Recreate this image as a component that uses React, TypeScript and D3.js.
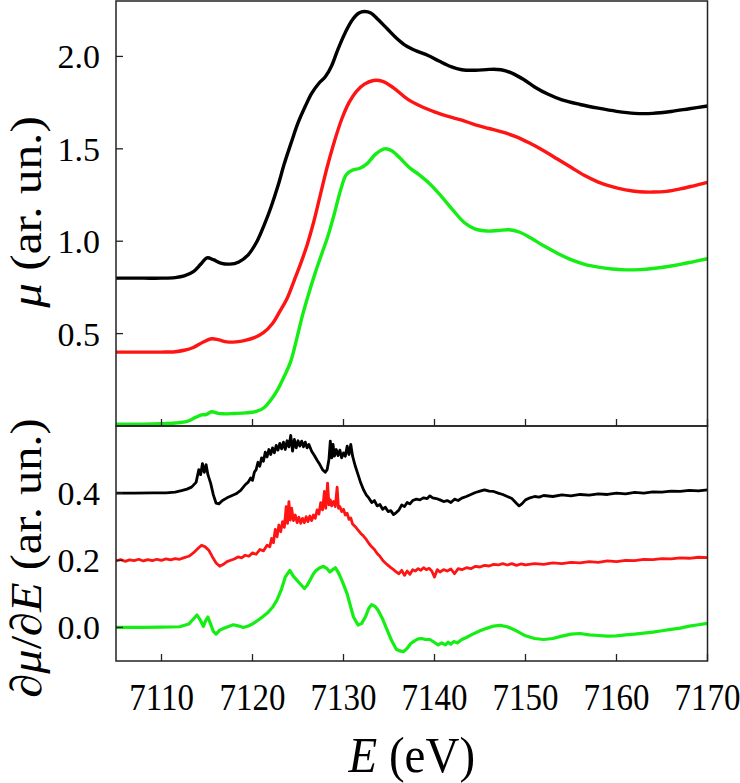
import React from "react";
import * as d3 from "d3";

// ---------- data ----------
const xTicks = [7110, 7120, 7130, 7140, 7150, 7160, 7170];
const muTicks = [0.5, 1.0, 1.5, 2.0];
const dTicks = [0.0, 0.2, 0.4];

// XANES mu(E), [E, mu]
const muBlack: [number, number][] = [
  [7105, 0.8], [7108, 0.8], [7110, 0.8], [7111.5, 0.803], [7112.5, 0.812], [7113.5, 0.835],
  [7114.3, 0.875], [7115, 0.91], [7115.7, 0.9], [7116.5, 0.882], [7117.5, 0.876], [7118.5, 0.888],
  [7119.5, 0.925], [7120.5, 1.0], [7121.3, 1.09], [7122, 1.18], [7122.8, 1.3], [7123.5, 1.42],
  [7124.3, 1.54], [7125, 1.64], [7125.8, 1.73], [7126.5, 1.8], [7127.3, 1.855], [7128, 1.89],
  [7128.7, 1.95], [7129.4, 2.04], [7130.2, 2.13], [7131, 2.2], [7131.7, 2.235], [7132.3, 2.243],
  [7133, 2.235], [7133.8, 2.2], [7134.8, 2.15], [7135.8, 2.1], [7136.8, 2.06], [7138, 2.03],
  [7139.3, 2.005], [7140.5, 1.975], [7141.8, 1.945], [7143, 1.928], [7144.5, 1.925], [7146, 1.93],
  [7147.3, 1.928], [7148.5, 1.91], [7149.8, 1.875], [7151, 1.835], [7152.5, 1.795], [7154, 1.765],
  [7156, 1.74], [7158, 1.72], [7160, 1.703], [7162, 1.692], [7164, 1.692], [7166, 1.702],
  [7168, 1.717], [7170, 1.732],
];

const muRed: [number, number][] = [
  [7105, 0.4], [7108, 0.4], [7110, 0.4], [7111.5, 0.402], [7112.5, 0.41], [7113.5, 0.425],
  [7114.5, 0.452], [7115.5, 0.472], [7116.3, 0.466], [7117.2, 0.455], [7118.2, 0.455],
  [7119.2, 0.463], [7120.2, 0.478], [7121.2, 0.505], [7122.2, 0.555], [7123, 0.62], [7123.8, 0.69],
  [7124.6, 0.79], [7125.3, 0.88], [7126, 0.98], [7126.7, 1.1], [7127.4, 1.24], [7128.2, 1.4],
  [7129, 1.54], [7129.8, 1.66], [7130.6, 1.75], [7131.4, 1.81], [7132.3, 1.85], [7133.3, 1.87],
  [7134.3, 1.865], [7135.5, 1.83], [7137, 1.77], [7138.5, 1.73], [7140, 1.7], [7141.5, 1.675],
  [7143, 1.655], [7144.5, 1.63], [7146, 1.61], [7147.5, 1.59], [7149, 1.565], [7150.5, 1.53],
  [7152, 1.49], [7153.5, 1.445], [7155, 1.4], [7156.5, 1.355], [7158, 1.32], [7159.5, 1.295],
  [7161, 1.278], [7162.5, 1.268], [7164, 1.266], [7165.5, 1.27], [7167, 1.283], [7168.5, 1.3],
  [7170, 1.318],
];

const muGreen: [number, number][] = [
  [7105, 0.01], [7108, 0.01], [7110, 0.012], [7111.5, 0.016], [7112.8, 0.025], [7113.8, 0.048],
  [7114.4, 0.06], [7114.9, 0.062], [7115.5, 0.077], [7116.1, 0.07], [7116.8, 0.066], [7118, 0.068],
  [7119.3, 0.071], [7120.5, 0.08], [7121.3, 0.1], [7122, 0.14], [7122.8, 0.2], [7123.5, 0.27],
  [7124.2, 0.35], [7124.9, 0.48], [7125.5, 0.6], [7126.2, 0.72], [7126.9, 0.83], [7127.6, 0.93],
  [7128.3, 1.03], [7129, 1.15], [7129.7, 1.28], [7130.3, 1.36], [7131, 1.385], [7131.8, 1.395],
  [7132.6, 1.42], [7133.5, 1.47], [7134.5, 1.5], [7135.3, 1.49], [7136.2, 1.45], [7137.2, 1.4],
  [7138.3, 1.36], [7139.5, 1.31], [7140.8, 1.24], [7142, 1.17], [7143.3, 1.1], [7144.5, 1.065],
  [7145.8, 1.055], [7147, 1.058], [7148.2, 1.062], [7149.3, 1.05], [7150.5, 1.02], [7152, 0.975],
  [7153.5, 0.935], [7155, 0.9], [7156.5, 0.875], [7158, 0.86], [7159.5, 0.85], [7161, 0.845],
  [7162.5, 0.846], [7164, 0.852], [7165.5, 0.862], [7167, 0.875], [7168.5, 0.89], [7170, 0.905],
];

// derivative d mu / dE, [E, value]
const dBlack: [number, number][] = [
  [7105, 0.4], [7107, 0.4], [7109, 0.401], [7110.5, 0.401], [7111.5, 0.403], [7112.3, 0.408],
  [7112.8, 0.412], [7113.3, 0.418], [7113.8, 0.432], [7114.1, 0.47], [7114.3, 0.455], [7114.5, 0.488],
  [7114.7, 0.462], [7114.9, 0.485], [7115.1, 0.455], [7115.4, 0.43], [7115.7, 0.395], [7116.0, 0.37],
  [7116.3, 0.368], [7116.7, 0.378], [7117.2, 0.386], [7117.7, 0.392], [7118.2, 0.398], [7118.7, 0.408],
  [7119.2, 0.425], [7119.5, 0.432], [7119.8, 0.445], [7120.0, 0.438], [7120.2, 0.462], [7120.4, 0.47],
  [7120.6, 0.492], [7120.8, 0.48], [7121.0, 0.505], [7121.2, 0.495], [7121.4, 0.522], [7121.6, 0.508],
  [7121.8, 0.53], [7122.0, 0.515], [7122.2, 0.535], [7122.4, 0.52], [7122.6, 0.542], [7122.8, 0.528],
  [7123.0, 0.548], [7123.2, 0.532], [7123.4, 0.552], [7123.6, 0.53], [7123.8, 0.556], [7124.0, 0.538],
  [7124.2, 0.572], [7124.4, 0.525], [7124.6, 0.56], [7124.8, 0.535], [7125.0, 0.556], [7125.2, 0.54],
  [7125.4, 0.555], [7125.6, 0.538], [7125.8, 0.552], [7126.0, 0.535], [7126.2, 0.545], [7126.5, 0.525],
  [7126.8, 0.512], [7127.1, 0.498], [7127.4, 0.485], [7127.7, 0.47], [7128.0, 0.462], [7128.2, 0.47],
  [7128.4, 0.5], [7128.55, 0.555], [7128.7, 0.505], [7128.85, 0.545], [7129.0, 0.51], [7129.2, 0.53],
  [7129.4, 0.512], [7129.6, 0.528], [7129.8, 0.505], [7130.0, 0.52], [7130.2, 0.51], [7130.4, 0.54],
  [7130.6, 0.515], [7130.8, 0.545], [7131.0, 0.51], [7131.3, 0.48], [7131.6, 0.455], [7131.9, 0.43],
  [7132.2, 0.41], [7132.5, 0.395], [7132.8, 0.385], [7133.1, 0.372], [7133.4, 0.378], [7133.7, 0.362],
  [7134.0, 0.366], [7134.3, 0.352], [7134.6, 0.358], [7134.9, 0.345], [7135.2, 0.348], [7135.5, 0.336],
  [7135.8, 0.342], [7136.1, 0.35], [7136.4, 0.365], [7136.7, 0.36], [7137.0, 0.372], [7137.3, 0.368],
  [7137.6, 0.378], [7138.0, 0.382], [7138.4, 0.38], [7138.8, 0.386], [7139.2, 0.384], [7139.5, 0.392],
  [7139.8, 0.386], [7140.2, 0.384], [7140.6, 0.38], [7141.0, 0.375], [7141.4, 0.378], [7141.8, 0.372],
  [7142.2, 0.382], [7142.6, 0.378], [7143.0, 0.385], [7143.5, 0.39], [7144.0, 0.396], [7144.5, 0.402],
  [7145.0, 0.406], [7145.5, 0.41], [7146.0, 0.406], [7146.5, 0.405], [7147.0, 0.4], [7147.5, 0.396],
  [7148.0, 0.39], [7148.5, 0.384], [7149.0, 0.37], [7149.3, 0.362], [7149.6, 0.368], [7150.0, 0.38],
  [7150.5, 0.386], [7151.0, 0.39], [7151.5, 0.388], [7152, 0.393], [7153, 0.39], [7154, 0.395],
  [7155, 0.392], [7156, 0.396], [7157, 0.394], [7158, 0.398], [7159, 0.396], [7160, 0.4],
  [7161, 0.398], [7162, 0.402], [7163, 0.4], [7164, 0.404], [7165, 0.403], [7166, 0.406],
  [7167, 0.405], [7168, 0.408], [7169, 0.407], [7170, 0.41],
];

const dRed: [number, number][] = [
  [7105, 0.198], [7105.5, 0.202], [7106, 0.197], [7106.5, 0.201], [7107, 0.199], [7107.5, 0.203],
  [7108, 0.198], [7108.5, 0.202], [7109, 0.199], [7109.5, 0.203], [7110, 0.2], [7110.5, 0.204],
  [7111, 0.201], [7111.5, 0.205], [7112, 0.203], [7112.5, 0.208], [7113, 0.212], [7113.5, 0.222],
  [7114, 0.235], [7114.4, 0.245], [7114.8, 0.24], [7115.2, 0.23], [7115.6, 0.21], [7116.0, 0.192],
  [7116.4, 0.182], [7116.8, 0.188], [7117.2, 0.196], [7117.6, 0.2], [7118.0, 0.204], [7118.4, 0.21],
  [7118.8, 0.207], [7119.2, 0.215], [7119.6, 0.212], [7120.0, 0.222], [7120.4, 0.218], [7120.8, 0.232],
  [7121.2, 0.228], [7121.6, 0.245], [7121.9, 0.24], [7122.1, 0.265], [7122.3, 0.252], [7122.5, 0.292],
  [7122.7, 0.27], [7122.9, 0.305], [7123.1, 0.285], [7123.3, 0.315], [7123.5, 0.298], [7123.7, 0.36],
  [7123.85, 0.31], [7124.0, 0.375], [7124.15, 0.32], [7124.3, 0.355], [7124.5, 0.318], [7124.7, 0.335],
  [7124.9, 0.312], [7125.1, 0.328], [7125.3, 0.31], [7125.5, 0.325], [7125.7, 0.312], [7125.9, 0.33],
  [7126.1, 0.315], [7126.3, 0.332], [7126.5, 0.318], [7126.7, 0.335], [7126.9, 0.325], [7127.1, 0.35],
  [7127.3, 0.338], [7127.5, 0.372], [7127.7, 0.35], [7127.9, 0.405], [7128.05, 0.355], [7128.25, 0.43],
  [7128.4, 0.365], [7128.55, 0.38], [7128.7, 0.362], [7128.9, 0.375], [7129.1, 0.36], [7129.3, 0.418],
  [7129.45, 0.355], [7129.6, 0.36], [7129.8, 0.345], [7130.0, 0.352], [7130.2, 0.335], [7130.4, 0.34],
  [7130.6, 0.322], [7130.8, 0.326], [7131.0, 0.308], [7131.3, 0.3], [7131.6, 0.29], [7131.9, 0.28],
  [7132.2, 0.272], [7132.5, 0.262], [7132.8, 0.25], [7133.1, 0.24], [7133.4, 0.232], [7133.7, 0.22],
  [7134.0, 0.212], [7134.3, 0.2], [7134.6, 0.192], [7134.9, 0.185], [7135.2, 0.178], [7135.5, 0.172],
  [7135.8, 0.165], [7136.1, 0.16], [7136.4, 0.17], [7136.7, 0.155], [7137.0, 0.168], [7137.3, 0.158],
  [7137.6, 0.172], [7137.9, 0.168], [7138.2, 0.175], [7138.5, 0.17], [7138.8, 0.178], [7139.1, 0.172],
  [7139.4, 0.176], [7139.7, 0.168], [7140.0, 0.15], [7140.3, 0.172], [7140.6, 0.165], [7141.0, 0.172],
  [7141.4, 0.168], [7141.8, 0.174], [7142.2, 0.16], [7142.6, 0.175], [7143.0, 0.172], [7143.5, 0.178],
  [7144.0, 0.175], [7144.5, 0.182], [7145.0, 0.18], [7145.5, 0.185], [7146.0, 0.183], [7146.5, 0.188],
  [7147.0, 0.186], [7147.5, 0.19], [7148.0, 0.186], [7148.5, 0.19], [7149.0, 0.185], [7149.5, 0.189],
  [7150, 0.186], [7151, 0.19], [7152, 0.188], [7153, 0.192], [7154, 0.19], [7155, 0.194],
  [7156, 0.192], [7157, 0.196], [7158, 0.194], [7159, 0.198], [7160, 0.196], [7161, 0.2],
  [7162, 0.199], [7163, 0.203], [7164, 0.202], [7165, 0.205], [7166, 0.204], [7167, 0.207],
  [7168, 0.206], [7169, 0.209], [7170, 0.208],
];

const dGreen: [number, number][] = [
  [7105, 0.0], [7108, 0.0], [7110, 0.001], [7112, 0.002], [7113, 0.01], [7113.5, 0.025],
  [7113.9, 0.037], [7114.3, 0.02], [7114.6, 0.003], [7114.85, 0.02], [7115.1, 0.031], [7115.4, 0.01],
  [7115.7, -0.012], [7116.0, -0.02], [7116.4, -0.008], [7116.8, -0.003], [7117.3, 0.002], [7117.9, 0.008],
  [7118.5, 0.004], [7119.0, 0.0], [7119.6, 0.005], [7120.1, 0.012], [7120.8, 0.025], [7121.6, 0.042],
  [7122.2, 0.06], [7122.7, 0.082], [7123.2, 0.115], [7123.6, 0.15], [7124.1, 0.17], [7124.5, 0.152],
  [7124.9, 0.14], [7125.3, 0.128], [7125.7, 0.116], [7126.0, 0.125], [7126.3, 0.14], [7126.7, 0.16],
  [7127.0, 0.17], [7127.4, 0.178], [7127.8, 0.182], [7128.2, 0.175], [7128.5, 0.165], [7128.8, 0.172],
  [7129.1, 0.178], [7129.4, 0.165], [7129.7, 0.148], [7130.0, 0.128], [7130.4, 0.1], [7130.8, 0.06],
  [7131.1, 0.031], [7131.6, 0.007], [7132.0, 0.012], [7132.4, 0.031], [7132.8, 0.058], [7133.1, 0.068],
  [7133.5, 0.062], [7133.8, 0.051], [7134.3, 0.025], [7134.8, -0.008], [7135.3, -0.04], [7135.8, -0.065],
  [7136.2, -0.07], [7136.6, -0.072], [7137.0, -0.062], [7137.4, -0.048], [7137.8, -0.04], [7138.2, -0.034],
  [7138.6, -0.033], [7139.0, -0.036], [7139.5, -0.036], [7140.0, -0.045], [7140.4, -0.052], [7140.8, -0.046],
  [7141.2, -0.052], [7141.5, -0.044], [7141.8, -0.05], [7142.1, -0.042], [7142.5, -0.046], [7143.0, -0.036],
  [7143.5, -0.03], [7144.2, -0.02], [7145.0, -0.01], [7145.8, -0.002], [7146.5, 0.004], [7147.2, 0.006],
  [7148.0, 0.002], [7149.0, -0.01], [7150.0, -0.025], [7151.0, -0.033], [7152.0, -0.036], [7153.0, -0.033],
  [7154.0, -0.026], [7155.0, -0.02], [7156.0, -0.018], [7157.0, -0.022], [7158.0, -0.024], [7159.0, -0.026],
  [7160.0, -0.025], [7161.0, -0.022], [7162.0, -0.02], [7163.0, -0.017], [7164.0, -0.014], [7165.0, -0.01],
  [7166.0, -0.006], [7167.0, -0.002], [7168.0, 0.004], [7169.0, 0.008], [7170.0, 0.012],
];

const BLACK = "#000000";
const RED = "#ff1414";
const GREEN = "#14ee14";

// ---------- layout ----------
const W = 740;
const H = 783;
const left = 116;
const right = 707.5;
const topY0 = 1;
const topY1 = 426;
const botY0 = 426;
const botY1 = 661;
const FONT = "'Liberation Serif', 'Times New Roman', serif";

export default function App() {
  const x = d3.scaleLinear().domain([7105, 7170]).range([left, right]);
  const yTop = d3.scaleLinear().domain([0, 2.3]).range([topY1, topY0]);
  const yBot = d3.scaleLinear().domain([-0.1, 0.6]).range([botY1, botY0]);

  const lineTop = d3
    .line<[number, number]>()
    .x((d) => x(d[0]))
    .y((d) => yTop(d[1]))
    .curve(d3.curveCatmullRom.alpha(0.5));
  const lineBot = d3
    .line<[number, number]>()
    .x((d) => x(d[0]))
    .y((d) => yBot(d[1]))
    .curve(d3.curveLinear);

  const tickLen = 7;
  const frame = "#222";

  return (
    <svg
      width={W}
      height={H}
      style={{ position: "absolute", left: 0, top: 0, background: "#fff" }}
      fontFamily={FONT}
    >
      <defs>
        <clipPath id="clipTop">
          <rect x={left} y={topY0} width={right - left} height={topY1 - topY0} />
        </clipPath>
        <clipPath id="clipBot">
          <rect x={left} y={botY0} width={right - left} height={botY1 - botY0} />
        </clipPath>
      </defs>

      {/* top panel curves */}
      <g clipPath="url(#clipTop)" fill="none" strokeWidth={3.4} strokeLinejoin="round">
        <path d={lineTop(muGreen) || ""} stroke={GREEN} />
        <path d={lineTop(muRed) || ""} stroke={RED} />
        <path d={lineTop(muBlack) || ""} stroke={BLACK} />
      </g>

      {/* bottom panel curves */}
      <g clipPath="url(#clipBot)" fill="none" strokeWidth={2.8} strokeLinejoin="round">
        <path d={lineBot(dGreen) || ""} stroke={GREEN} strokeWidth={3.2} />
        <path d={lineBot(dRed) || ""} stroke={RED} />
        <path d={lineBot(dBlack) || ""} stroke={BLACK} />
      </g>

      {/* frames */}
      <rect x={left} y={topY0} width={right - left} height={topY1 - topY0} fill="none" stroke={frame} strokeWidth={1.5} />
      <rect x={left} y={botY0} width={right - left} height={botY1 - botY0} fill="none" stroke={frame} strokeWidth={1.5} />

      {/* x ticks (inward, both panels) */}
      {xTicks.map((t) => (
        <g key={"xt" + t} stroke={frame} strokeWidth={1.3}>
          <line x1={x(t)} x2={x(t)} y1={topY1} y2={topY1 - tickLen} />
          <line x1={x(t)} x2={x(t)} y1={botY1} y2={botY1 - tickLen} />
        </g>
      ))}
      {xTicks.map((t) => (
        <text
          key={"xl" + t}
          transform={`translate(${x(t)}, 710) scale(1, 1.12)`}
          fontSize={33}
          textAnchor="middle"
          fill="#000"
        >
          {t}
        </text>
      ))}

      {/* y ticks top */}
      {muTicks.map((t) => (
        <g key={"mt" + t}>
          <line x1={left} x2={left + tickLen} y1={yTop(t)} y2={yTop(t)} stroke={frame} strokeWidth={1.3} />
          <text x={100} y={yTop(t)} dy="0.35em" fontSize={34} textAnchor="end" fill="#000">
            {d3.format(".1f")(t)}
          </text>
        </g>
      ))}

      {/* y ticks bottom */}
      {dTicks.map((t) => (
        <g key={"dt" + t}>
          <line x1={left} x2={left + tickLen} y1={yBot(t)} y2={yBot(t)} stroke={frame} strokeWidth={1.3} />
          <text x={100} y={yBot(t)} dy="0.35em" fontSize={34} textAnchor="end" fill="#000">
            {d3.format(".1f")(t)}
          </text>
        </g>
      ))}

      {/* axis titles */}
      <text
        transform={`translate(${(left + right) / 2}, 772) scale(1, 1.08)`}
        fontSize={47}
        textAnchor="middle"
        fill="#000"
      >
        <tspan fontStyle="italic">E</tspan> (eV)
      </text>
      <text
        transform={`translate(41, 212) rotate(-90) scale(1.12, 1)`}
        fontSize={44}
        textAnchor="middle"
        fill="#000"
      >
        <tspan fontStyle="italic">μ</tspan> (ar. un.)
      </text>
      <text
        transform={`translate(41, 558) rotate(-90) scale(1.1, 1)`}
        fontSize={44}
        textAnchor="middle"
        fill="#000"
      >
        ∂<tspan fontStyle="italic">μ</tspan>/∂<tspan fontStyle="italic">E</tspan> (ar. un.)
      </text>
    </svg>
  );
}
